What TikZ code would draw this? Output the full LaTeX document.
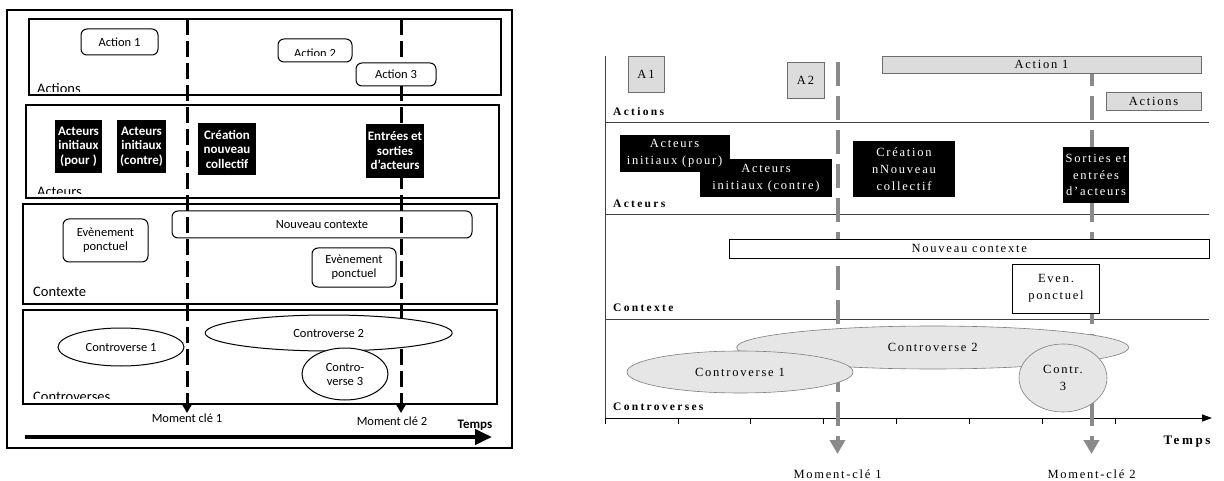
\documentclass[tikz,border=0pt]{standalone}
\usepackage{fontspec}
\setmainfont{Carlito}
\newfontfamily\rsp[LetterSpace=14]{Liberation Serif}
\newfontfamily\rspb[LetterSpace=20]{Liberation Serif}
\usetikzlibrary{arrows.meta,shapes.geometric}
\newcommand\fLN{\fontsize{12.5}{14}\selectfont}
\newcommand\fLL{\fontsize{14.5}{17}\selectfont}
\newcommand\fLB{\fontsize{13}{14.5}\selectfont\bfseries}
\newcommand\fRN{\rsp\fontsize{12.5}{16.8}\selectfont}
\newcommand\fRL{\rspb\bfseries\fontsize{11.5}{13}\selectfont}
\newcommand\fRT{\rspb\bfseries\fontsize{13}{15}\selectfont}
\definecolor{rdgray}{HTML}{8A8A8A}
\definecolor{rbox}{HTML}{DCDCDC}
\definecolor{rellf}{HTML}{E6E6E6}
\definecolor{redge}{HTML}{6E6E6E}
\begin{document}
\begin{tikzpicture}[x=1pt,y=-1pt,
  lband/.style={draw, line width=1.1pt, inner sep=0},
  lround/.style={draw, rounded corners=6pt, fill=white, line width=1pt, inner sep=0, font=\fLN, align=center},
  lblack/.style={fill=black, text=white, inner sep=0, font=\fLB, align=center},
  lell/.style={ellipse, draw, fill=white, line width=1pt, inner sep=0, font=\fLN, align=center},
  ldash/.style={line width=3pt, dash pattern=on 16pt off 6pt, -{Triangle[length=10pt,width=11pt]}},
  llab/.style={anchor=base west, inner sep=0, font=\fLL},
  rgray/.style={draw=redge, fill=rbox, line width=0.8pt, inner sep=0, font=\fRN},
  rblack/.style={fill=black, text=white, inner sep=0, font=\fRN, align=center},
  rwhite/.style={draw, fill=white, line width=0.8pt, inner sep=0, font=\fRN, align=center},
  rell/.style={ellipse, draw=redge!90, fill=rellf, line width=0.6pt, inner sep=0, font=\fRN, align=center},
  rdash/.style={draw=rdgray, line width=4pt, dash pattern=on 24pt off 10pt, -{Triangle[length=14pt,width=15pt]}},
  rline/.style={line width=1pt, draw=black!75},
  rlab/.style={anchor=west, inner sep=0, font=\fRL}]
\useasboundingbox (0,0) rectangle (1224,481);

% ================= LEFT DIAGRAM =================
\node[draw, line width=1.4pt, minimum width=505pt, minimum height=438pt, inner sep=0] (frame) at (259.5,229) {};
\node[lband, minimum width=472pt, minimum height=76pt] (bAct) at (265,57) {};
\node[lband, minimum width=473pt, minimum height=93pt] (bActeurs) at (262.5,151.5) {};
\node[lband, minimum width=474pt, minimum height=100pt] (bCtx) at (260,254) {};
\node[lband, minimum width=474pt, minimum height=94pt] (bCtr) at (260,357) {};

\begin{scope}
\clip (30,20) rectangle (500,91.5);
\node[llab] (lActions) at (37,94) {Actions};
\end{scope}
\begin{scope}
\clip (27,106) rectangle (498,193.5);
\node[llab] (lActeurs) at (37,197) {Acteurs};
\end{scope}
\node[llab] (lContexte) at (33,296) {Contexte};
\begin{scope}
\clip (24,311) rectangle (496,398.5);
\node[llab] (lControverses) at (33,401) {Controverses};
\end{scope}

% dashed key-moment lines
\coordinate (lk1top) at (187,19);
\coordinate (lk1end) at (187,413);
\coordinate (lk2top) at (401,19);
\coordinate (lk2end) at (401,413);
\draw[ldash] (lk1top) -- (lk1end);
\draw[ldash] (lk2top) -- (lk2end);

\node[lround, minimum width=77pt, minimum height=26pt] (lA1) at (119.5,42) {Action 1};
\node[lround, minimum width=74pt, minimum height=23pt] (lA2) at (315,50.5) {};
\begin{scope}
\clip (279,40) rectangle (351,55.5);
\node[anchor=base, inner sep=0, font=\fLN] (lA2t) at (315,57.5) {Action 2};
\end{scope}
\node[lround, minimum width=80pt, minimum height=23pt] (lA3) at (396,74.5) {Action 3};

\node[lblack, minimum width=47pt, minimum height=53pt] (lpour) at (78.5,146.5) {Acteurs\\initiaux\\(pour )};
\node[lblack, minimum width=49pt, minimum height=53pt] (lcontre) at (141.5,146.5) {Acteurs\\initiaux\\(contre)};
\node[lblack, minimum width=58pt, minimum height=52pt] (lcrea) at (227,149) {Création\\nouveau\\collectif};
\node[lblack, minimum width=58pt, minimum height=54pt] (lentr) at (395,151) {Entrées et\\sorties\\d’acteurs};

\node[draw, rounded corners=6pt, line width=1pt, inner sep=0, font=\fLN, minimum width=300pt, minimum height=27pt] (lnc) at (322,224.5) {Nouveau contexte};
\node[lround, minimum width=85pt, minimum height=43pt] (lev1) at (105.5,240.5) {Evènement\\ponctuel};
\node[lround, minimum width=84pt, minimum height=39pt] (lev2) at (354,267.5) {Evènement\\ponctuel};

\node[lell, minimum width=126pt, minimum height=38pt] (lc1) at (121,347) {Controverse 1};
\node[lell, minimum width=247pt, minimum height=36pt] (lc2) at (328.7,333) {Controverse 2};
\node[lell, minimum width=86pt, minimum height=52pt] (lc3) at (345,374) {Contro-\\verse 3};

\node[anchor=north, inner sep=0, font=\fLN] (lmk1) at (187,414) {Moment clé 1};
\node[anchor=north, inner sep=0, font=\fLN] (lmk2) at (392,417) {Moment clé 2};
\node[inner sep=0, font=\fLB] (ltemps) at (475,425) {Temps};
\coordinate (lta0) at (25,437);
\coordinate (lta1) at (492,437);
\draw[line width=4pt, -{Triangle[length=17pt,width=15pt]}] (lta0) -- (lta1);

% ================= RIGHT DIAGRAM =================
\coordinate (ry0) at (605,56);
\coordinate (ax0) at (605,418);
\coordinate (ax1) at (1212,418);
\draw[rline] (ry0) -- (ax0);
\coordinate (h1a) at (605,123); \coordinate (h1b) at (1209,123);
\coordinate (h2a) at (605,215); \coordinate (h2b) at (1209,215);
\coordinate (h3a) at (605,319); \coordinate (h3b) at (1209,319);
\draw[rline] (h1a) -- (h1b);
\draw[rline] (h2a) -- (h2b);
\draw[rline] (h3a) -- (h3b);
\draw[line width=1pt, -{Triangle[length=10pt,width=7pt]}] (ax0) -- (ax1);
\foreach \i in {0,...,7} {
  \draw[line width=0.8pt] (605+72.9*\i,418) -- (605+72.9*\i,424);
}

\node[rlab] (rActions) at (613,112) {Actions};
\node[rlab] (rActeurs) at (613,204) {Acteurs};
\node[rlab] (rContexte) at (613,308) {Contexte};
\node[rlab] (rControverses) at (613,407) {Controverses};

\coordinate (rk1top) at (837.5,62);
\coordinate (rk1end) at (837.5,454);
\coordinate (rk2top) at (1091.5,62);
\coordinate (rk2end) at (1091.5,454);
\draw[rdash] (rk1top) -- (rk1end);
\draw[rdash] (rk2top) -- (rk2end);

\node[rgray, minimum width=36pt, minimum height=36pt] (rA1) at (646,74) {A1};
\node[rgray, minimum width=37pt, minimum height=36pt] (rA2) at (805.5,80) {A2};
\node[rgray, minimum width=319pt, minimum height=17pt] (rAct1) at (1041.5,64.5) {Action 1};
\node[rgray, minimum width=95pt, minimum height=18pt] (rActs) at (1153.5,101) {Actions};

\node[rblack, minimum width=132pt, minimum height=38pt] (rcontre) at (766,178) {Acteurs\\initiaux (contre)};
\node[rblack, minimum width=110pt, minimum height=37pt] (rpour) at (674.5,153.5) {};
\node[inner sep=0, text=white, font=\fRN, align=center] (rpourt) at (674.5,153.5) {Acteurs\\initiaux (pour)};
\node[rblack, minimum width=102pt, minimum height=56pt] (rcrea) at (904,169) {Création\\nNouveau\\collectif};
\node[rblack, minimum width=66pt, minimum height=56pt] (rsort) at (1096,175) {Sorties et\\entrées\\d’acteurs};

\node[rwhite, minimum width=479.5pt, minimum height=19pt] (rnc) at (969.25,248.5) {Nouveau contexte};
\node[rwhite, minimum width=87pt, minimum height=49pt] (rev) at (1056,288.5) {Even.\\ponctuel};

\node[rell, minimum width=392pt, minimum height=43pt] (rc2) at (932.7,347.5) {Controverse 2};
\node[rell, minimum width=226pt, minimum height=42pt] (rc1) at (740,372) {Controverse 1};
\node[rell, minimum width=88pt, minimum height=68pt] (rc3) at (1063,378) {Contr.\\3};

\node[inner sep=0, font=\fRN] (rmk1) at (837.5,474) {Moment-clé 1};
\node[inner sep=0, font=\fRN] (rmk2) at (1091.5,474) {Moment-clé 2};
\node[inner sep=0, font=\fRT] (rtemps) at (1187,442) {Temps};
\end{tikzpicture}
\end{document}
